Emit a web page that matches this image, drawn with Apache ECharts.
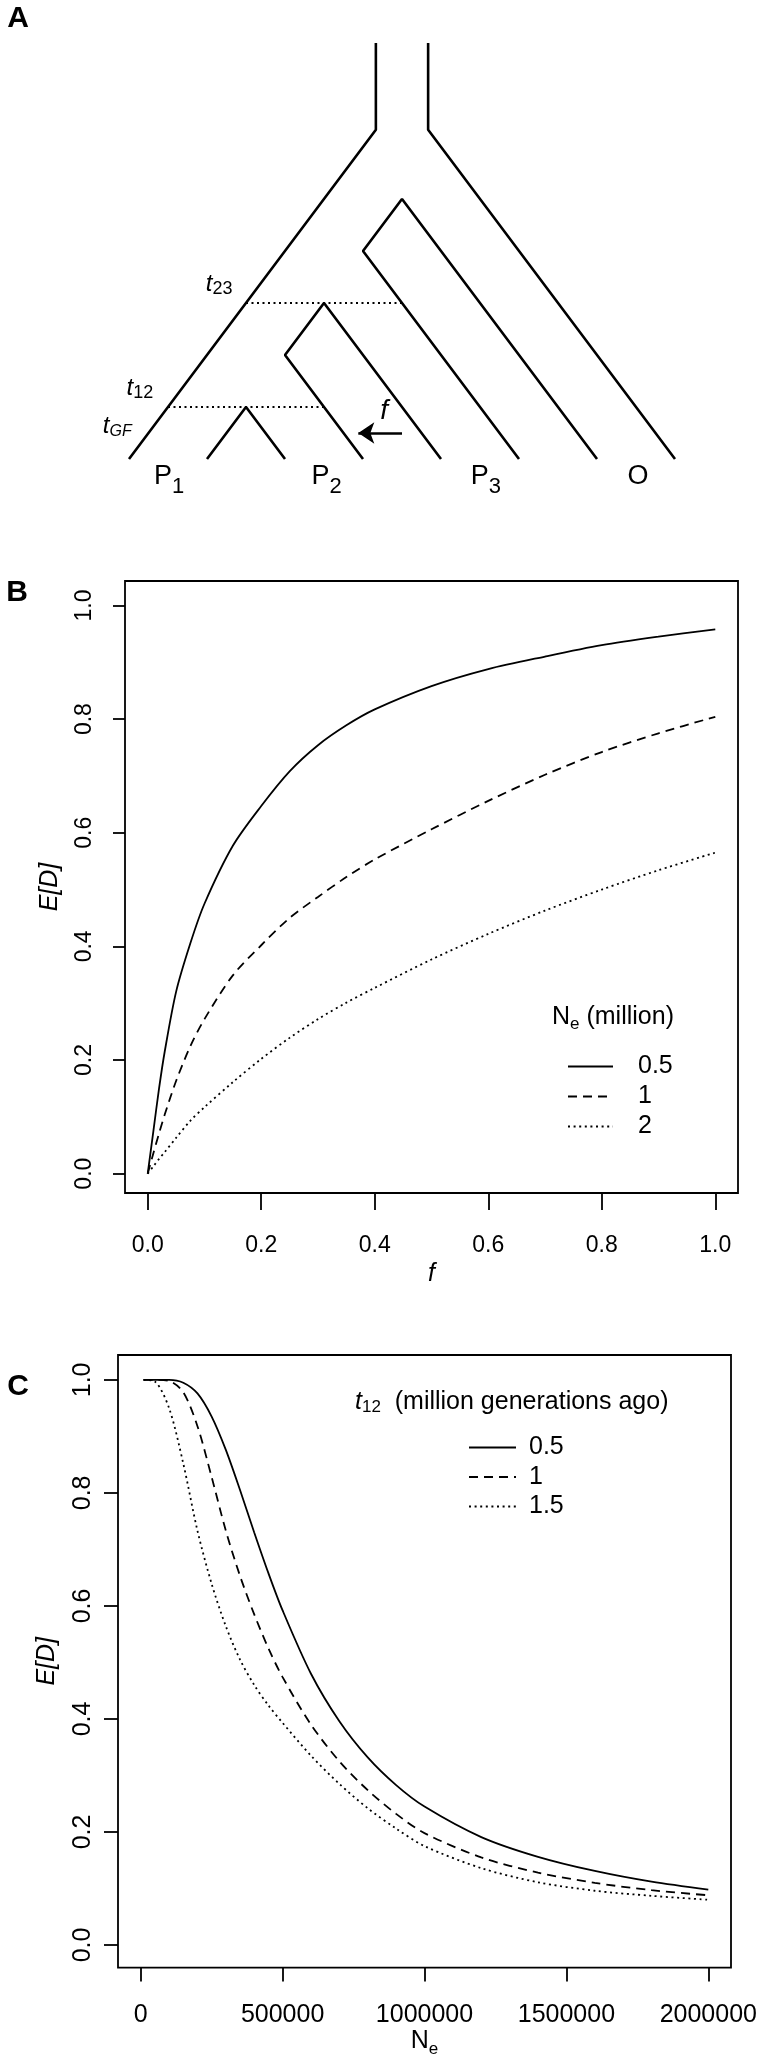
<!DOCTYPE html>
<html><head><meta charset="utf-8">
<script src="https://cdn.jsdelivr.net/npm/echarts@6/dist/echarts.min.js"></script>
<style>html,body{margin:0;padding:0;background:#fff}#c{width:760px;height:2059px}</style>
</head><body><div id="c"></div>
<script>
// ---------- Panel A: tree (u = lineage position, t = time) ----------
const treePaths = [
  [[0,0],[6.33,6.33],[6.33,8]],
  [[14,0],[7.67,6.33],[7.67,8]],
  [[2,0],[3,1],[4,0]],
  [[6,0],[4,2],[5,3],[8,0]],
  [[10,0],[6,4],[7,5],[12,0]]
];
const treeDotted = [
  [[3,3],[7,3]],
  [[1,1],[5,1]]
];
const geneFlowArrow = [[7.0,0.5],[5.88,0.5]];
const treeLabels = [
  {text:'{m|P}{s|1}', u:1.03, t:-0.33},
  {text:'{m|P}{s|2}', u:5.07, t:-0.33},
  {text:'{m|P}{s|3}', u:9.15, t:-0.33},
  {text:'{m|O}', u:13.05, t:-0.33},
  {text:'{ti|t}{ts|23}', u:2.31, t:3.35},
  {text:'{ti|t}{ts|12}', u:0.28, t:1.35},
  {text:'{ti|t}{tsi|GF}', u:-0.30, t:0.625},
  {text:'{fi|f}', u:6.54, t:0.92}
];

// ---------- Panel B: E[D] vs f ----------
const fValues = [0,0.01,0.02,0.03,0.05,0.075,0.1,0.15,0.2,0.25,0.3,0.35,0.4,0.5,0.6,0.7,0.8,0.9,1.0];
const dNe05 = [0,0.075,0.150,0.215,0.320,0.405,0.475,0.577,0.647,0.708,0.754,0.789,0.817,0.858,0.888,0.910,0.930,0.945,0.958];
const dNe1  = [0,0.036,0.071,0.104,0.163,0.224,0.272,0.349,0.402,0.450,0.487,0.522,0.553,0.606,0.656,0.702,0.742,0.775,0.804];
const dNe2  = [0,0.013,0.026,0.038,0.063,0.093,0.117,0.161,0.202,0.239,0.272,0.301,0.327,0.377,0.422,0.463,0.500,0.534,0.565];
const namesB = ['0.5','1','2'];
const ticksB01 = [0,0.2,0.4,0.6,0.8,1.0];

// ---------- Panel C: E[D] vs Ne ----------
const neValues = [10000,50000,100000,150000,200000,250000,300000,350000,400000,450000,500000,600000,700000,800000,900000,1000000,1200000,1400000,1600000,1800000,2000000];
const dT05 = [1.000,1.000,1.000,0.995,0.976,0.935,0.876,0.805,0.730,0.658,0.592,0.480,0.396,0.332,0.283,0.245,0.191,0.156,0.131,0.112,0.098];
const dT1  = [1.000,1.000,0.998,0.978,0.918,0.828,0.733,0.653,0.585,0.525,0.474,0.390,0.325,0.274,0.232,0.198,0.155,0.128,0.110,0.097,0.088];
const dT15 = [1.000,0.997,0.950,0.852,0.733,0.639,0.564,0.505,0.460,0.424,0.393,0.335,0.285,0.242,0.206,0.175,0.136,0.111,0.096,0.087,0.080];
const namesC = ['0.5','1','1.5'];
const ticksNe = [0,500000,1000000,1500000,2000000];

const FONT = 'Liberation Sans';
const BLACK = '#000';
const lineStyles = [
  {color:BLACK, width:1.8, type:'solid'},
  {color:BLACK, width:1.8, type:[9,6]},
  {color:BLACK, width:1.8, type:[2,3.6]}
];
const zip = (xs, ys) => xs.map((x,i)=>[x, ys[i]]);

const series = [];
treePaths.forEach(p => series.push({type:'line', xAxisIndex:0, yAxisIndex:0, data:p, symbol:'none', silent:true,
  lineStyle:{color:BLACK, width:2.6}}));
treeDotted.forEach(p => series.push({type:'line', xAxisIndex:0, yAxisIndex:0, data:p, symbol:'none', silent:true,
  lineStyle:{color:BLACK, width:2, type:[2,3.5]}}));
series.push({type:'lines', coordinateSystem:'cartesian2d', xAxisIndex:0, yAxisIndex:0, silent:true,
  data:[{coords:geneFlowArrow}], symbol:['none','arrow'], symbolSize:16,
  lineStyle:{color:BLACK, width:2.6, opacity:1}, itemStyle:{color:BLACK}});
const treeRich = {
  m:{fontSize:27, fontFamily:FONT, color:BLACK},
  s:{fontSize:22, fontFamily:FONT, color:BLACK, padding:[21,0,0,0]},
  ti:{fontSize:24, fontStyle:'italic', fontFamily:FONT, color:BLACK},
  ts:{fontSize:18, fontFamily:FONT, color:BLACK, padding:[8,0,0,0]},
  tsi:{fontSize:16, fontStyle:'italic', fontFamily:FONT, color:BLACK, padding:[10,0,0,0]},
  fi:{fontSize:28, fontStyle:'italic', fontFamily:FONT, color:BLACK}
};
series.push({type:'scatter', xAxisIndex:0, yAxisIndex:0, symbolSize:0, silent:true,
  itemStyle:{color:BLACK, opacity:1},
  data: treeLabels.map(l => ({value:[l.u, l.t], label:{formatter:l.text}})),
  label:{show:true, position:'inside', color:BLACK, opacity:1, textBorderWidth:0, rich:treeRich}});

[dNe05, dNe1, dNe2].forEach((d,i) => series.push({type:'line', name:namesB[i], xAxisIndex:1, yAxisIndex:1,
  data:zip(fValues, d), symbol:'none', smooth:0.3, lineStyle:lineStyles[i], itemStyle:{color:BLACK}}));
[dT05, dT1, dT15].forEach((d,i) => series.push({type:'line', name:namesC[i], xAxisIndex:2, yAxisIndex:2,
  data:zip(neValues, d), symbol:'none', smooth:0.3, lineStyle:lineStyles[i], itemStyle:{color:BLACK}}));

const axisText = {color:BLACK, fontFamily:FONT};
function valueAxisX(gridIndex, min, max, ticks, fmt, fs, margin, tickLen, name, nameGap, nameStyle){
  return {type:'value', gridIndex, min, max,
    axisLine:{show:false, onZero:false}, splitLine:{show:false},
    axisTick:{show:true, inside:false, length:tickLen, customValues:ticks, lineStyle:{color:BLACK, width:1.8}},
    axisLabel:{show:true, customValues:ticks, formatter:fmt, fontSize:fs, margin, ...axisText},
    name, nameLocation:'middle', nameGap, nameTextStyle:nameStyle};
}
function valueAxisY(gridIndex, min, max, ticks, fmt, fs, margin, tickLen, nameGap){
  return {type:'value', gridIndex, min, max,
    axisLine:{show:false, onZero:false}, splitLine:{show:false},
    axisTick:{show:true, inside:false, length:tickLen, customValues:ticks, lineStyle:{color:BLACK, width:1.8}},
    axisLabel:{show:true, customValues:ticks, formatter:fmt, fontSize:fs, margin, rotate:90, ...axisText},
    name:'E[D]', nameLocation:'middle', nameRotate:90, nameGap,
    nameTextStyle:{fontSize:25, fontStyle:'italic', ...axisText}};
}
const fmt1 = v => Number(v).toFixed(1);
const fmtInt = v => String(Math.round(v));

const option = {
  animation:false,
  backgroundColor:'#fff',
  grid:[
    {left:12, top:43, width:741, height:468, show:false},
    {left:125, top:581, width:613, height:612, show:true, borderColor:BLACK, borderWidth:1.8, backgroundColor:'transparent'},
    {left:118, top:1355, width:613, height:617, show:true, borderColor:BLACK, borderWidth:1.8, backgroundColor:'transparent'}
  ],
  xAxis:[
    {type:'value', gridIndex:0, min:-3, max:16, show:false},
    valueAxisX(1, -0.04, 1.04, ticksB01, fmt1, 23, 41, 17, 'f', 69, {fontSize:25, fontStyle:'italic', ...axisText}),
    valueAxisX(2, -80000, 2080000, ticksNe, fmtInt, 25, 35, 14, '{m|N}{s|e}', 32,
      {rich:{m:{fontSize:25, fontFamily:FONT, color:BLACK}, s:{fontSize:17, fontFamily:FONT, color:BLACK, padding:[17,0,0,0]}}})
  ],
  yAxis:[
    {type:'value', gridIndex:0, min:-1, max:8, show:false},
    valueAxisY(1, -0.034, 1.043, ticksB01, fmt1, 23, 29, 12, 62),
    valueAxisY(2, -0.04, 1.044, ticksB01, fmt1, 25, 22, 14, 58)
  ],
  legend:[
    {data:namesB, orient:'vertical', left:567, top:1054, padding:0, itemWidth:45, itemHeight:14, itemGap:5,
     selectedMode:false, itemStyle:{color:'rgba(0,0,0,0)', borderWidth:0, opacity:0},
     textStyle:{fontSize:25, lineHeight:25, padding:[0,0,0,20], ...axisText}},
    {data:namesC, orient:'vertical', left:468, top:1435, padding:0, itemWidth:47, itemHeight:14, itemGap:4.5,
     selectedMode:false, itemStyle:{color:'rgba(0,0,0,0)', borderWidth:0, opacity:0},
     textStyle:{fontSize:25, lineHeight:25, padding:[0,0,0,8], ...axisText}}
  ],
  graphic:[
    {type:'text', x:18, y:19, style:{text:'A', font:'bold 30px "Liberation Sans"', fill:BLACK, align:'center', verticalAlign:'middle'}},
    {type:'text', x:17, y:593, style:{text:'B', font:'bold 30px "Liberation Sans"', fill:BLACK, align:'center', verticalAlign:'middle'}},
    {type:'text', x:18, y:1387, style:{text:'C', font:'bold 30px "Liberation Sans"', fill:BLACK, align:'center', verticalAlign:'middle'}},
    {type:'text', x:552, y:1017.5, style:{text:'{m|N}{s|e}{m| (million)}', align:'left', verticalAlign:'middle', fill:BLACK,
      rich:{m:{fontSize:25, fontFamily:FONT, fill:BLACK}, s:{fontSize:17, fontFamily:FONT, fill:BLACK, padding:[14,0,0,0]}}}},
    {type:'text', x:355, y:1402.5, style:{text:'{ti|t}{s|12}{m|  (million generations ago)}', align:'left', verticalAlign:'middle', fill:BLACK,
      rich:{ti:{fontSize:25, fontStyle:'italic', fontFamily:FONT, fill:BLACK}, s:{fontSize:17, fontFamily:FONT, fill:BLACK, padding:[10,0,0,0]},
            m:{fontSize:25, fontFamily:FONT, fill:BLACK}}}}
  ],
  series
};
const chart = echarts.init(document.getElementById('c'), null, {renderer:'canvas', width:760, height:2059});
chart.setOption(option);
</script>
</body></html>
